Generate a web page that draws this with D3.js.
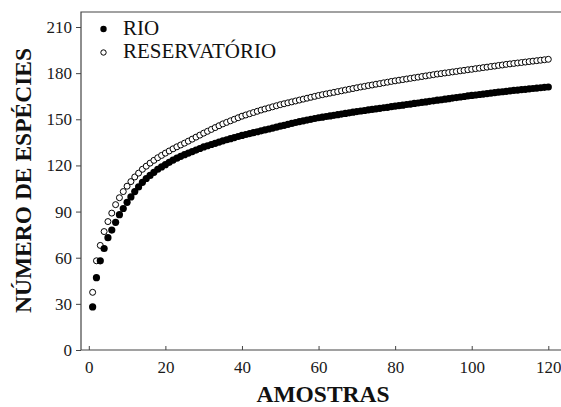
<!DOCTYPE html>
<html>
<head>
<meta charset="utf-8">
<script src="https://cdn.jsdelivr.net/npm/d3@7"></script>
<style>
  body { margin: 0; background: #fff; }
  svg { display: block; }
  svg text { font-family: "Liberation Serif", "Times New Roman", serif; }
</style>
</head>
<body>
<div id="plot"></div>
<script>
// samples (1..120) and the two rarefaction curves
const samples = d3.range(1, 121);

const rio = [
  28, 47, 58, 66, 73, 78, 83, 88, 92, 96,
  99.5, 103, 106, 109, 111.5, 113.5, 115.5, 117.5, 119, 120.5,
  122, 123.5, 124.7, 125.9, 127, 128, 129, 130, 131, 132,
  132.8, 133.6, 134.4, 135.2, 136, 136.7, 137.4, 138.1, 138.8, 139.5,
  140.1, 140.7, 141.3, 141.9, 142.5, 143.1, 143.7, 144.3, 144.9, 145.5,
  146.1, 146.7, 147.3, 147.9, 148.5, 149, 149.5, 150, 150.5, 151,
  151.4, 151.8, 152.2, 152.6, 153, 153.4, 153.8, 154.2, 154.6, 155,
  155.4, 155.7, 156.1, 156.4, 156.8, 157.1, 157.5, 157.8, 158.2, 158.5,
  158.9, 159.2, 159.6, 159.9, 160.3, 160.6, 161, 161.3, 161.7, 162,
  162.4, 162.7, 163.1, 163.4, 163.8, 164.1, 164.5, 164.8, 165.2, 165.5,
  165.8, 166.1, 166.4, 166.7, 167, 167.3, 167.6, 167.9, 168.2, 168.5,
  168.8, 169, 169.3, 169.5, 169.8, 170, 170.3, 170.5, 170.8, 171
];

const reservatorio = [
  37.5, 58, 68, 77, 83.5, 89, 94.5, 99, 103, 106.5,
  109.5, 112.5, 115, 117.5, 119.5, 121.5, 123.3, 125, 126.5, 128,
  129.4, 130.8, 132.1, 133.3, 134.5, 135.8, 137.1, 138.4, 139.7, 141,
  142.2, 143.4, 144.6, 145.8, 147, 148, 149, 150, 151, 152,
  152.8, 153.6, 154.4, 155.2, 156, 156.7, 157.4, 158.1, 158.8, 159.5,
  160.1, 160.7, 161.3, 161.9, 162.5, 163.1, 163.7, 164.3, 164.9, 165.5,
  166, 166.5, 167, 167.5, 168, 168.5, 169, 169.5, 170, 170.5,
  171, 171.4, 171.9, 172.3, 172.8, 173.2, 173.7, 174.1, 174.6, 175,
  175.4, 175.8, 176.2, 176.6, 177, 177.4, 177.8, 178.2, 178.6, 179,
  179.4, 179.7, 180.1, 180.4, 180.8, 181.1, 181.5, 181.8, 182.2, 182.5,
  182.9, 183.2, 183.6, 183.9, 184.3, 184.6, 185, 185.3, 185.7, 186,
  186.3, 186.6, 186.9, 187.2, 187.5, 187.8, 188.1, 188.4, 188.7, 189
];

const xTicks = [0, 20, 40, 60, 80, 100, 120];
const yTicks = [0, 30, 60, 90, 120, 150, 180, 210];
const seriesNames = ["RIO", "RESERVATÓRIO"];

const W = 561, H = 407;
const frame = {left: 81, top: 12, bottom: 350, right: 561};
const axisColor = "#444";
const serif = "'Liberation Serif', 'Times New Roman', serif";

const svg = d3.select("div#plot")
  .append("svg")
    .attr("width", W)
    .attr("height", H);

const x = d3.scaleLinear().domain([0, 120]).range([88.8, 548.3]);
const y = d3.scaleLinear().domain([0, 210]).range([350, 27]);

// frame lines (left, top, bottom; open on the right)
svg.append("path")
    .attr("d", `M${frame.right},${frame.top}H${frame.left}V${frame.bottom}H${frame.right}`)
    .attr("fill", "none")
    .attr("stroke", axisColor)
    .attr("stroke-width", 1.2);

// y axis, ticks outward
const yAxis = svg.append("g")
    .attr("transform", `translate(${frame.left},0)`)
    .call(d3.axisLeft(y).tickValues(yTicks).tickSize(5).tickPadding(4));
yAxis.select(".domain").remove();

// x axis, ticks inward
const xAxis = svg.append("g")
    .attr("transform", `translate(0,${frame.bottom})`)
    .call(d3.axisBottom(x).tickValues(xTicks).tickSizeInner(-4).tickSizeOuter(0).tickPadding(11));
xAxis.select(".domain").remove();

svg.selectAll("g.tick line").attr("stroke", axisColor);
svg.selectAll("g.tick text")
    .attr("fill", "#1a1a1a")
    .attr("font-family", serif)
    .style("font-family", serif)
    .style("font-size", "17px");

// axis titles
svg.append("text")
    .attr("x", 323)
    .attr("y", 402)
    .attr("text-anchor", "middle")
    .style("font-family", serif)
    .style("font-size", "23.5px")
    .style("font-weight", "bold")
    .attr("fill", "#111")
    .text("AMOSTRAS");

svg.append("text")
    .attr("transform", "translate(30.5,180.5) rotate(-90)")
    .attr("text-anchor", "middle")
    .style("font-family", serif)
    .style("font-size", "23.5px")
    .style("font-weight", "bold")
    .attr("fill", "#111")
    .text("NÚMERO DE ESPÉCIES");

// points: open circles first, filled on top
svg.append("g")
  .selectAll("circle")
  .data(samples.map((s, i) => ({s: s, v: reservatorio[i]})))
  .join("circle")
    .attr("cx", d => x(d.s))
    .attr("cy", d => y(d.v))
    .attr("r", 3)
    .attr("fill", "#fff")
    .attr("stroke", "#000")
    .attr("stroke-width", 1);

svg.append("g")
  .selectAll("circle")
  .data(samples.map((s, i) => ({s: s, v: rio[i]})))
  .join("circle")
    .attr("cx", d => x(d.s))
    .attr("cy", d => y(d.v))
    .attr("r", 3.6)
    .attr("fill", "#000");

// legend
const legend = svg.append("g");
legend.append("circle")
    .attr("cx", 103.5).attr("cy", 29).attr("r", 3.2)
    .attr("fill", "#000");
legend.append("circle")
    .attr("cx", 103.5).attr("cy", 52.5).attr("r", 2.7)
    .attr("fill", "#fff").attr("stroke", "#000").attr("stroke-width", 1);

seriesNames.forEach((name, i) => {
  legend.append("text")
      .attr("x", 123)
      .attr("y", 34.5 + i * 23.2)
      .style("font-family", serif)
      .style("font-size", "21px")
      .attr("fill", "#111")
      .text(name);
});
</script>
</body>
</html>
